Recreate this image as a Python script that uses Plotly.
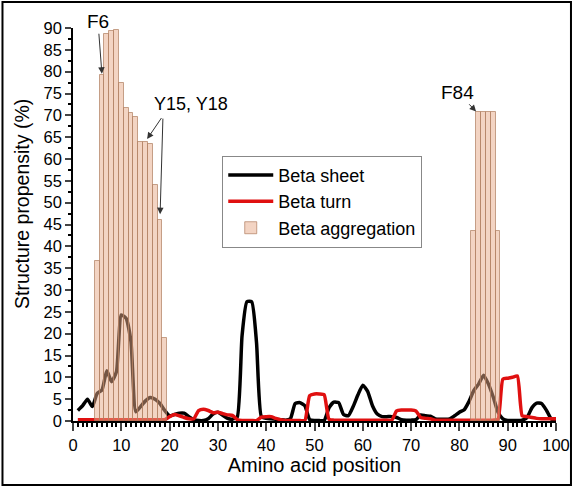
import plotly.graph_objects as go

positions = list(range(1, 101))

beta_sheet = [2.4, 3.5, 5.0, 3.3, 6.3, 7.1, 11.5, 9.0, 11.3, 24.3,
              23.5, 18.2, 2.1, 3.3, 4.6, 5.4, 5.0, 4.0, 2.4, 1.2,
              1.5, 1.8, 1.8, 1.0, 0.3, 0.1, 0.1, 0.5, 1.6, 2.0,
              1.3, 0.6, 0.4, 0.9, 19.5, 27.3, 27.3, 17.9, 1.0, 0.6,
              0.5, 0.4, 0.3, 0.2, 0.5, 4.0, 4.2, 3.5, 0.3, 0.1,
              0.1, 0.1, 3.0, 4.3, 4.2, 1.5, 1.2, 3.3, 6.0, 8.2,
              6.8, 3.5, 1.6, 1.0, 1.0, 1.0, 0.8, 0.3, 0.2, 0.2,
              0.3, 1.4, 1.2, 1.1, 0.5, 0.4, 0.4, 0.5, 1.2, 2.0,
              2.6, 4.5, 7.0, 8.5, 10.5, 8.5, 5.5, 2.0, 0.5, 0.1,
              0.1, 0.1, 0.2, 0.8, 3.0, 4.1, 4.0, 2.5, 0.5, 0.1]

beta_turn = [0.3] * 19 + [
    1.0, 1.5, 1.2, 0.8, 0.5, 0.5, 2.4, 2.7, 2.4, 1.9, 2.0,
    1.7, 1.4, 1.3, 0.3, 0.1, 0.1, 0.1, 0.1, 0.9, 1.0,
    1.0, 0.6, 0.3, 0.1, 0.1, 0.1, 0.1, 0.1, 5.8, 6.2,
    6.2, 6.0, 0.4, 0.2, 0.2, 0.2, 0.2, 0.2, 0.2, 0.2,
    0.2, 0.2, 0.2, 0.2, 0.2, 0.2, 2.3, 2.5, 2.5, 2.5,
    2.3, 0.8, 0.6, 0.5, 0.2, 0.2, 0.2, 0.2, 0.2, 0.2,
    0.2, 0.2, 0.2, 0.2, 0.2, 0.2, 0.2, 0.4, 9.6, 9.8,
    10.0, 10.3, 1.2, 1.0, 0.8, 0.6, 0.5, 0.5, 0.5, 0.5]

agg_positions = [5, 6, 7, 8, 9, 10, 11, 12, 13, 14, 15, 16, 17, 18, 19,
                 83, 84, 85, 86, 87, 88]
agg_values = [36.6, 79.3, 88.7, 89.2, 89.5, 77.4, 71.6, 70.5, 69.7, 64.0,
              64.0, 63.5, 54.0, 46.0, 18.9,
              43.6, 70.7, 70.7, 70.7, 70.7, 43.6]

x_ticks = list(range(0, 101, 10))
y_ticks = list(range(0, 91, 5))

FONT = "Liberation Sans, Arial, sans-serif"

fig = go.Figure()
fig.add_trace(go.Scatter(x=positions, y=beta_sheet, mode="lines", name="Beta sheet",
                         line=dict(color="black", width=3.5, shape="spline", smoothing=0.5)))
fig.add_trace(go.Scatter(x=positions, y=beta_turn, mode="lines", name="Beta turn",
                         line=dict(color="#e01010", width=3.5, shape="spline", smoothing=0.5)))
fig.add_trace(go.Bar(x=agg_positions, y=agg_values, name="Beta aggregation", width=1,
                     xaxis="x2", yaxis="y2",
                     marker=dict(color="rgba(232,170,135,0.5)",
                                 line=dict(color="rgba(175,125,95,0.7)", width=1))))

fig.update_layout(
    width=574, height=488,
    margin=dict(l=73, r=18, t=28, b=67, autoexpand=False),
    paper_bgcolor="white", plot_bgcolor="white",
    font=dict(family=FONT, size=16, color="black"),
    bargap=0,
    showlegend=True,
    legend=dict(x=0.309, y=0.675, xanchor="left", yanchor="top",
                bordercolor="#888", borderwidth=1, bgcolor="white",
                font=dict(size=18), tracegroupgap=0, itemwidth=45),
    xaxis=dict(range=[0, 100], tickvals=x_ticks, ticks="outside", ticklen=8, tickwidth=1.5,
               showline=True, linecolor="black", linewidth=1.5, showgrid=False, zeroline=False,
               tickfont=dict(size=16.5), automargin=False,
               minor=dict(dtick=1, ticks="outside", ticklen=4, tickcolor="black", showgrid=False),
               title=dict(text="Amino acid position", font=dict(size=20), standoff=2)),
    yaxis=dict(range=[0, 90], tickvals=y_ticks, ticks="outside", ticklen=6, tickwidth=1.5,
               showline=True, linecolor="black", linewidth=1.5, showgrid=False, zeroline=False,
               tickfont=dict(size=16.5), automargin=False,
               minor=dict(dtick=2.5, ticks="outside", ticklen=3, tickcolor="black", showgrid=False)),
    xaxis2=dict(range=[0, 100], overlaying="x", visible=False),
    yaxis2=dict(range=[0, 90], overlaying="y", visible=False),
)

# y-axis title (placed slightly above the axis centre as in the original)
fig.add_annotation(text="Structure propensity (%)", xref="paper", yref="paper",
                   x=(22 - 73) / 483, y=1 - (204 - 28) / 393, textangle=-90,
                   showarrow=False, font=dict(size=19.5), xanchor="center", yanchor="middle")

arrow_style = dict(showarrow=True, arrowhead=2, arrowsize=1.3, arrowwidth=1,
                   arrowcolor="#333", xref="x", yref="y")

fig.add_annotation(x=6, y=79.3, text="F6", ax=-4, ay=-53, font=dict(size=19), standoff=1, **arrow_style)
fig.add_annotation(x=83.6, y=70.7, text="F84", ax=-19, ay=-20, font=dict(size=19), standoff=1, **arrow_style)
fig.add_annotation(x=15, y=64, text="", ax=17, ay=-25, standoff=3, **arrow_style)
fig.add_annotation(x=18, y=46, text="", ax=3, ay=-103, standoff=6, **arrow_style)
fig.add_annotation(x=16.4, y=72.5, xref="x", yref="y", text="Y15, Y18", showarrow=False,
                   xanchor="left", yanchor="middle", font=dict(size=18))

# outer frame around the whole image
fig.add_shape(type="rect", xref="paper", yref="paper",
              x0=-0.146, x1=1.031, y0=-0.163, y1=1.066,
              line=dict(color="black", width=2))

fig.write_html("out.html")
